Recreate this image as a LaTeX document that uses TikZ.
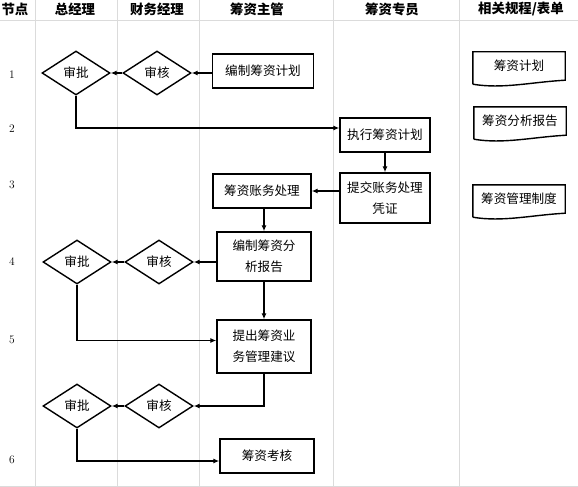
\documentclass[tikz,border=0pt]{standalone}
\usepackage{fontspec}
\newfontfamily\cjk{Noto Sans CJK SC}
\usetikzlibrary{shapes.geometric,arrows.meta}
\definecolor{lanegray}{gray}{.86}
\newcommand{\widthbox}{94pt}
\newcommand{\heightbox}{34pt}
\tikzset{
    common/.style={draw, line width=1.4pt, font=\cjk\fontsize{12.6}{21}\selectfont, inner sep=2pt, align=center},
    stepbox/.style={common, rectangle, minimum width=\widthbox, minimum height=\heightbox},
    check/.style={common, diamond, minimum width=68pt, minimum height=44pt, inner sep=0pt},
    docnode/.style={font=\cjk\fontsize{12.6}{14}\selectfont, minimum width=92pt, minimum height=28pt, inner sep=0pt},
    flow/.style={line width=1.2pt, -{Latex[length=6pt,width=5pt]}},
    lane/.style={lanegray, line width=0.7pt},
    head/.style={font=\cjk\bfseries\fontsize{13.4}{15}\selectfont},
    rownum/.style={font=\fontsize{11.5}{13}\selectfont}
}
% document shape: node without border, outline with a wavy bottom
\newcommand{\docbox}[4]{%
    \node[docnode] (#1) at (#2) {#3};
    \draw[line width=1.4pt] ([yshift=-#4]#1.south west) -- (#1.north west) -- (#1.north east) -- (#1.south east)
        .. controls +(-35pt,-2pt) and +(30pt,-5pt) .. ([yshift=-#4]#1.south west);
}

\begin{document}
\begin{tikzpicture}[x=1pt, y=-1pt]
    \useasboundingbox (0,0) rectangle (578,487);

    % lanes
    \foreach \xl in {35,117,199,333,459}
        \draw[lane] (\xl,0) -- (\xl,487);
    \draw[lane] (0,20) -- (578,20);
    \draw[lane] (0,486) -- (578,486);

    % header
    \node[head] (hnode) at (15,9) {节点};
    \node[head] (hgm) at (75,9) {总经理};
    \node[head] (hfm) at (157,9) {财务经理};
    \node[head] (hlead) at (257,9) {筹资主管};
    \node[head] (hstaff) at (392,9) {筹资专员};
    \node[head] (hdocs) at (521,9) {相关规程/表单};

    % row numbers
    \foreach \num/\yr in {1/75,2/129,3/185,4/262,5/340,6/460}
        \node[rownum] (row\num) at (12,\yr) {\num};

    % steps
    \node[stepbox, minimum width=101pt] (plan) at (263,71) {编制筹资计划};
    \node[check] (sh1) at (157,73) {审核};
    \node[check] (sp1) at (76,73) {审批};

    \node[stepbox, minimum width=90pt] (exec) at (385,135) {执行筹资计划};
    \node[stepbox, minimum width=90pt, minimum height=50pt] (voucher) at (385,198) {提交账务处理\\凭证};
    \node[stepbox, minimum width=98pt] (acct) at (262,191) {筹资账务处理};

    \node[stepbox, minimum height=49pt] (report) at (264,256.5) {编制筹资分\\析报告};
    \node[check] (sh2) at (159,262) {审核};
    \node[check] (sp2) at (77,262) {审批};

    \node[stepbox, minimum height=53pt] (advice) at (264,346.5) {提出筹资业\\务管理建议};
    \node[check] (sh3) at (159,406) {审核};
    \node[check] (sp3) at (77,406) {审批};

    \node[stepbox] (assess) at (267,456) {筹资考核};

    % related documents
    \docbox{fplan}{519,66}{筹资计划}{4pt}
    \docbox{freport}{520,121}{筹资分析报告}{4pt}
    \docbox{frule}{519,199}{筹资管理制度}{4pt}

    % connectors
    \draw[flow] (plan.west |- sh1.east) -- (sh1.east);
    \draw[flow] (sh1.west) -- (sp1.east);
    \draw[flow] (sp1.south) |- ([yshift=7pt]exec.west);
    \draw[flow] (exec.south) -- (voucher.north);
    \draw[flow] (voucher.west |- acct.east) -- (acct.east);
    \draw[flow] (report.north |- acct.south) -- (report.north);
    \draw[flow] (report.west |- sh2.east) -- (sh2.east);
    \draw[flow] (sh2.west) -- (sp2.east);
    \draw[flow] (report.south) -- (advice.north);
    \draw[flow] (sp2.south) |- ([yshift=6pt]advice.west);
    \draw[flow] (advice.south) |- (sh3.east);
    \draw[flow] (sh3.west) -- (sp3.east);
    \draw[flow] (sp3.south) |- ([yshift=-5pt]assess.west);
\end{tikzpicture}
\end{document}
